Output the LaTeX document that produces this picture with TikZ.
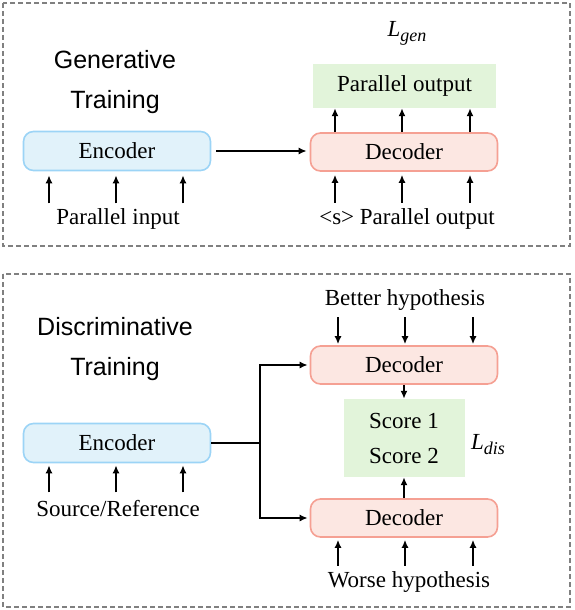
\documentclass[tikz,border=0pt]{standalone}
\usepackage{fontspec}
\setmainfont{Liberation Serif}
\newfontfamily\headfont{Liberation Sans}
\usepackage{tikz}
\usetikzlibrary{positioning, arrows.meta}

\definecolor{encfill}{HTML}{E1F2FA}
\definecolor{encline}{HTML}{9CD4F6}
\definecolor{decfill}{HTML}{FCE7E2}
\definecolor{decline}{HTML}{F5A093}
\definecolor{outfill}{HTML}{E2F4DA}
\definecolor{framegray}{HTML}{808080}

\newcommand{\lossname}[1]{\textit{L}\raisebox{-5pt}{\fontsize{18}{18}\selectfont\itshape #1}}

\begin{document}
\begin{tikzpicture}[x=1pt, y=-1pt,
    font=\fontsize{23}{27}\selectfont,
    enc/.style={draw=encline, fill=encfill, line width=1.6pt, rounded corners=10pt,
        minimum width=187pt, minimum height=39pt},
    dec/.style={draw=decline, fill=decfill, line width=1.6pt, rounded corners=10pt,
        minimum width=187pt, minimum height=38pt},
    outbox/.style={fill=outfill, inner sep=0pt},
    arr/.style={-{Latex[length=8pt, width=7pt]}, line width=1.6pt},
    frame/.style={draw=framegray, line width=1.8pt, dash pattern=on 5pt off 3pt},
    head/.style={font=\headfont\fontsize{25}{40}\selectfont, align=center}]
    \useasboundingbox (0,0) rectangle (574,610);
    % frames
    \draw[frame] (3,3) rectangle (570,246);
    \draw[frame] (3,274) rectangle (570,607);

    % generative training
    \node[head] (gentitle) at (115,82) {Generative\\Training};
    \node[enc] (enc1) at (117,151) {Encoder};
    \node[dec] (dec1) at (404,152) {Decoder};
    \node[outbox, minimum width=183pt, minimum height=44pt] (out1) at (404.5,86) {Parallel output};
    \node (lgen) at (407,33) {\lossname{gen}};
    \node (in1) at (118,219) {Parallel input};
    \node (din1) at (407,219) {<s> Parallel output};
    \draw[arr, shorten <=5pt, shorten >=3pt] (enc1.east) -- (dec1.west |- enc1.east);
    \foreach \dx in {-68,-1,66}
        \draw[arr] ([xshift=\dx pt, yshift=-32pt]enc1.south) -- ([xshift=\dx pt, yshift=-4pt]enc1.south);
    \foreach \dx in {-69,-2,66} {
        \draw[arr] ([xshift=\dx pt, yshift=-31pt]dec1.south) -- ([xshift=\dx pt, yshift=-3pt]dec1.south);
        \draw[arr] ([xshift=\dx pt]dec1.north) -- ([xshift=\dx pt]dec1.north |- out1.south);
    }

    % discriminative training
    \node[head] (distitle) at (115,349) {Discriminative\\Training};
    \node[enc] (enc2) at (117,443) {Encoder};
    \node (src) at (118,509) {Source/Reference};
    \node[dec] (dec2) at (404,365) {Decoder};
    \node[dec] (dec3) at (404,518) {Decoder};
    \node[outbox, minimum width=121pt, minimum height=78pt, align=center,
        font=\fontsize{23}{35}\selectfont] (score) at (404,438) {Score 1\\Score 2};
    \node (ldis) at (488,445) {\lossname{dis}};
    \node (better) at (405,300) {Better hypothesis};
    \node (worse) at (409,582) {Worse hypothesis};
    \coordinate (split) at (260,443);
    \draw[line width=1.6pt] (enc2.east) -- (split);
    \draw[arr, shorten >=2pt] (split) |- (dec2.west);
    \draw[arr, shorten >=2pt] (split) |- (dec3.west);
    \draw[arr] (dec2.south) -- (score.north);
    \draw[arr] (dec3.north) -- (score.south);
    \foreach \dx in {-68,-1,66}
        \draw[arr] ([xshift=\dx pt, yshift=-29pt]enc2.south) -- ([xshift=\dx pt, yshift=-2pt]enc2.south);
    \foreach \dx in {-66,1,69} {
        \draw[arr] ([xshift=\dx pt, yshift=28pt]dec2.north) -- ([xshift=\dx pt, yshift=1pt]dec2.north);
        \draw[arr] ([xshift=\dx pt, yshift=-28pt]dec3.south) -- ([xshift=\dx pt, yshift=-2pt]dec3.south);
    }
\end{tikzpicture}
\end{document}
